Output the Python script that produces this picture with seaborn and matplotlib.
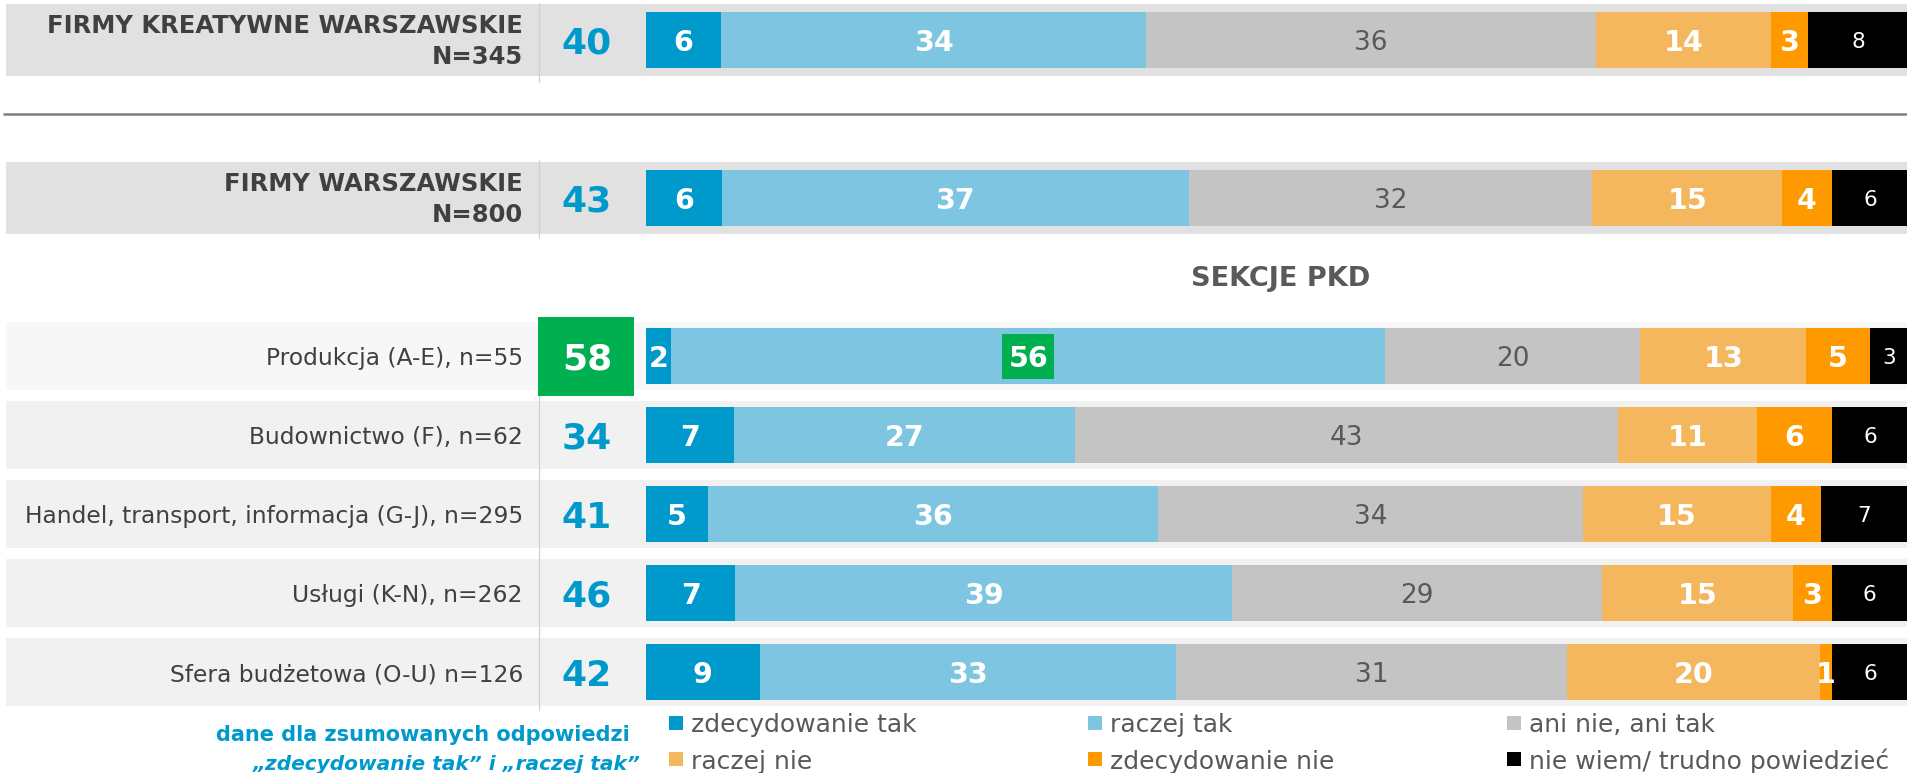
import numpy as np
import pandas as pd
import matplotlib
matplotlib.use("Agg")
import matplotlib.pyplot as plt
import seaborn as sns
from matplotlib.patches import Rectangle

# ---------------- data ----------------
row_labels = [
    "FIRMY KREATYWNE WARSZAWSKIE\nN=345",
    "FIRMY WARSZAWSKIE\nN=800",
    "Produkcja (A-E), n=55",
    "Budownictwo (F), n=62",
    "Handel, transport, informacja (G-J), n=295",
    "Usługi (K-N), n=262",
    "Sfera budżetowa (O-U) n=126",
]
categories = ["zdecydowanie tak", "raczej tak", "ani nie, ani tak",
              "raczej nie", "zdecydowanie nie", "nie wiem/ trudno powiedzieć"]
zdecydowanie_tak = [6, 6, 2, 7, 5, 7, 9]
raczej_tak = [34, 37, 56, 27, 36, 39, 33]
ani_nie_ani_tak = [36, 32, 20, 43, 34, 29, 31]
raczej_nie = [14, 15, 13, 11, 15, 15, 20]
zdecydowanie_nie = [3, 4, 5, 6, 4, 3, 1]
nie_wiem = [8, 6, 3, 6, 7, 6, 6]
section_title = "SEKCJE PKD"
note_lines = ["dane dla zsumowanych odpowiedzi", "\u201ezdecydowanie tak\u201d i \u201eraczej tak\u201d"]

# ---------------- style ----------------
colors = ["#0099CC", "#7DC5E0", "#C4C4C4", "#F5B75D", "#FF9900", "#000000"]
sum_color = "#0099CC"
label_color = "#404040"
sns.set_theme(style="white")
plt.rcParams["font.family"] = ["DejaVu Sans"]

W, H = 1908, 773
fig = plt.figure(figsize=(W / 100, H / 100), dpi=100)
ax = fig.add_axes([0, 1 - 711.5 / H, 1, 711 / H])

X0 = 646.0
PXU = (W - X0) / 100.0
def xd(px):
    return (px - X0) / PXU

row_keys = [f"r{i}" for i in range(len(row_labels))]
order = ["r0", "gap", "r1", "title", "r2", "r3", "r4", "r5", "r6"]
slot = {k: order.index(k) for k in row_keys}

vals = np.array([zdecydowanie_tak, raczej_tak, ani_nie_ani_tak,
                 raczej_nie, zdecydowanie_nie, nie_wiem], dtype=float)
pct = vals / vals.sum(axis=0) * 100
cum = pct.cumsum(axis=0)
sums = vals[0] + vals[1]

# ---------------- background bands ----------------
for i, k in enumerate(row_keys):
    s = slot[k]
    if i < 2:
        fc, h = "#E1E1E1", 0.91
    elif i == 2:
        fc, h = "#F7F7F7", 0.86
    else:
        fc, h = "#F1F1F1", 0.86
    ax.add_patch(Rectangle((xd(6), s - h / 2), xd(W) - xd(6), h,
                           fc=fc, ec="none", zorder=0.5))

# ---------------- stacked bars (seaborn) ----------------
for k in reversed(range(len(categories))):
    d = pd.DataFrame({"key": row_keys, "value": cum[k]})
    sns.barplot(data=d, x="value", y="key", order=order, orient="h",
                color=colors[k], saturation=1, width=0.71, errorbar=None,
                linewidth=0, ax=ax, zorder=2)

# ---------------- segment labels ----------------
for i, k in enumerate(row_keys):
    s = slot[k]
    left = 0.0
    for c in range(len(categories)):
        w = pct[c, i]
        cx = left + w / 2
        v = int(vals[c, i])
        if c == 2:
            kw = dict(color="#595959", fontsize=19, fontweight="normal")
        elif c == 5:
            kw = dict(color="white", fontsize=15.5, fontweight="normal")
        else:
            kw = dict(color="white", fontsize=20.5, fontweight="bold")
        if i == 2 and c == 1:
            # highlighted value
            bw, bh = 52 / PXU, 45 / 79
            ax.add_patch(Rectangle((cx - bw / 2, s - bh / 2), bw, bh,
                                   fc="#00B050", ec="none", zorder=3))
        ax.text(cx, s, str(v), ha="center", va="center_baseline", zorder=4, **kw)
        left += w

# ---------------- row labels, sums, dividers ----------------
for i, k in enumerate(row_keys):
    s = slot[k]
    if i < 2:
        ax.text(xd(523), s + 0.02, row_labels[i], ha="right", va="center",
                fontsize=17.5, fontweight="bold", color=label_color,
                linespacing=1.35, multialignment="right")
    else:
        ax.text(xd(523), s, row_labels[i], ha="right", va="center_baseline",
                fontsize=16.8, color=label_color)
    sc = sum_color
    if i == 2:
        ax.add_patch(Rectangle((xd(538), s - 0.494), xd(634) - xd(538), 1.0,
                               fc="#00B050", ec="none", zorder=3))
        sc = "white"
    ax.text(xd(587), s, str(int(sums[i])), ha="center", va="center_baseline",
            fontsize=26, fontweight="bold", color=sc, zorder=4)

div_x = xd(538.5)
for y0, y1 in [(-0.468, 0.53), (1.52, 2.506), (3.506, 8.48)]:
    ax.plot([div_x, div_x], [y0, y1], color="#D0D0D0", lw=0.9, zorder=1)

# separator line between the two top groups
ax.plot([xd(3), xd(W)], [0.943, 0.943], color="#7F7F7F", lw=1.8, zorder=1,
        solid_capstyle="butt")

# section title
ax.text(50.3, order.index("title") - 0.01, section_title, ha="center",
        va="center_baseline", fontsize=19.5, fontweight="bold", color="#595959")

ax.set_xlim(xd(0), xd(W))
ax.set_ylim(8.5, -0.5)
ax.axis("off")

# ---------------- legend ----------------
leg_x = [669, 1088, 1507]
leg_y = [722.5, 759]
for idx, cat in enumerate(categories):
    r, c = divmod(idx, 3)
    px, py = leg_x[c], leg_y[r]
    fig.add_artist(Rectangle((px / W, 1 - (py + 7) / H), 14 / W, 14 / H,
                             transform=fig.transFigure, fc=colors[idx], ec="none"))
    fig.text((px + 22) / W, 1 - py / H, cat, ha="left", va="center_baseline",
             fontsize=18, color="#595959")

# ---------------- note ----------------
fig.text(630 / W, 1 - 733 / H, note_lines[0], ha="right", va="center_baseline",
         fontsize=15, fontweight="bold", color=sum_color)
fig.text(641 / W, 1 - 763 / H, note_lines[1], ha="right", va="center_baseline",
         fontsize=14.5, fontweight="bold", fontstyle="italic", color=sum_color)

fig.savefig("out.png", dpi=100)
